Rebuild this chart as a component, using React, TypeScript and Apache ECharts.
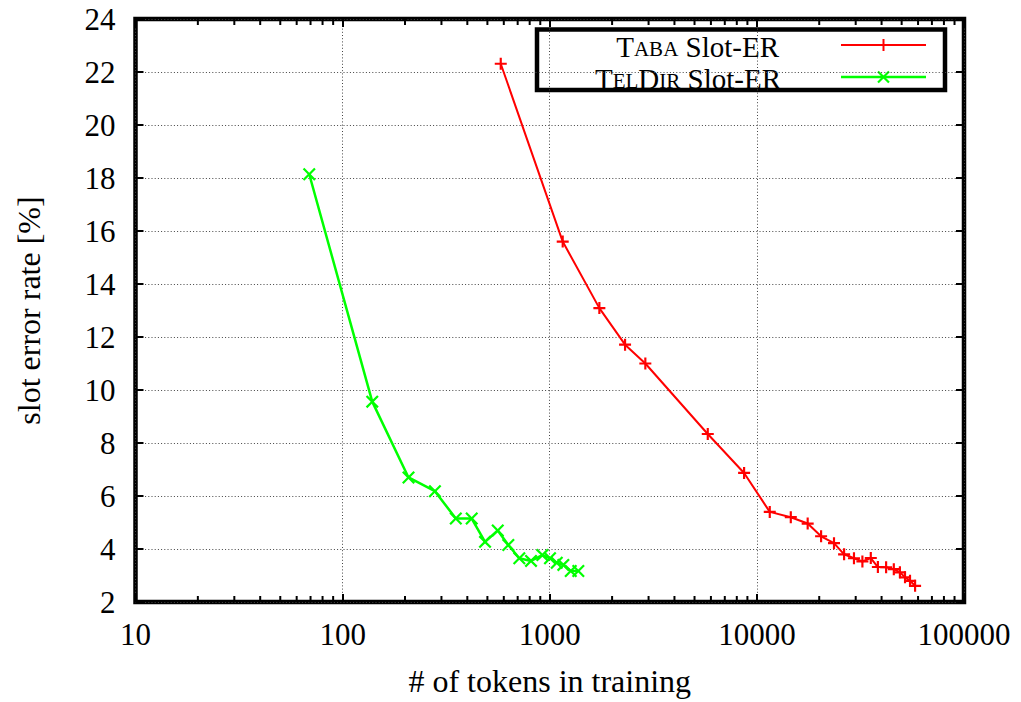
import React, { useEffect, useRef } from "react";
import * as echarts from "echarts";

// ---- data ----
const tabaTokens = [580, 1155, 1736, 2310, 2894, 5793, 8676, 11540, 14580, 17590, 20420, 23570, 26370, 29430, 32320, 35480, 38390, 42070, 45830, 49040, 51910, 54870, 58060];
const tabaSlotER = [22.31, 15.6, 13.09, 11.71, 11.0, 8.34, 6.87, 5.4, 5.2, 4.96, 4.48, 4.22, 3.8, 3.65, 3.53, 3.66, 3.32, 3.31, 3.24, 3.12, 2.93, 2.8, 2.61];
const teldirTokens = [69, 139, 208, 279, 352, 420, 487, 561, 631, 713, 812, 921, 1003, 1081, 1163, 1263, 1374];
const teldirSlotER = [18.14, 9.56, 6.7, 6.18, 5.15, 5.15, 4.27, 4.7, 4.15, 3.65, 3.55, 3.77, 3.65, 3.48, 3.4, 3.17, 3.17];

const seriesNames = ["Taba Slot-ER", "TelDir Slot-ER"];
const xAxisName = "# of tokens in training";
const yAxisName = "slot error rate [%]";
const xMin = 10;
const xMax = 100000;
const yMin = 2;
const yMax = 24;
const yStep = 2;
const minorTickValues = [
  20, 30, 40, 50, 60, 70, 80, 90,
  200, 300, 400, 500, 600, 700, 800, 900,
  2000, 3000, 4000, 5000, 6000, 7000, 8000, 9000,
  20000, 30000, 40000, 50000, 60000, 70000, 80000, 90000,
];

const FONT = "'Liberation Serif', 'Times New Roman', serif";
const RED = "#ff0000";
const GREEN = "#00ff00";
const PLUS = "path://M4.1,0H5.9V4.1H10V5.9H5.9V10H4.1V5.9H0V4.1H4.1Z";
const CROSS = "path://M0,1.2L1.2,0L5,3.8L8.8,0L10,1.2L6.2,5L10,8.8L8.8,10L5,6.2L1.2,10L0,8.8L3.8,5Z";

export default function App() {
  const ref = useRef<HTMLDivElement>(null);
  useEffect(() => {
    if (!ref.current) return;
    const chart = echarts.init(ref.current, undefined, { renderer: "svg" });
    const labelStyle = { fontFamily: FONT, fontSize: 31, color: "#000" };
    const splitStyle = { show: true, lineStyle: { color: "#444", width: 1, type: [1, 2.2] as any } };
    const tickStyle = { show: true, inside: true, length: 8, lineStyle: { color: "#000", width: 2 } };
    const fmt = (v: number) => String(Math.round(v));
    const legendRich = {
      b: { fontFamily: FONT, fontSize: 29, color: "#222", verticalAlign: "bottom", lineHeight: 30 },
      s: { fontFamily: FONT, fontSize: 21, color: "#222", verticalAlign: "bottom", lineHeight: 30, padding: [0, 0, 2, 0] },
    };
    const option: any = {
      animation: false,
      backgroundColor: "#fff",
      grid: { left: 135.5, right: 57, top: 19, bottom: 97.5, show: true, borderColor: "#000", borderWidth: 4.5, backgroundColor: "#fff" },
      xAxis: [
        {
          type: "log", logBase: 10, min: xMin, max: xMax, position: "bottom",
          axisLine: { show: false }, axisTick: tickStyle, splitLine: splitStyle,
          axisLabel: { ...labelStyle, margin: 17, formatter: fmt },
          name: xAxisName, nameLocation: "middle", nameGap: 63,
          nameTextStyle: { fontFamily: FONT, fontSize: 32, color: "#000" },
        },
        {
          type: "log", logBase: 10, min: xMin, max: xMax, position: "top",
          axisLine: { show: false }, axisTick: tickStyle, splitLine: { show: false }, axisLabel: { show: false },
        },
      ],
      yAxis: [
        {
          type: "value", min: yMin, max: yMax, interval: yStep, position: "left",
          axisLine: { show: false }, axisTick: tickStyle, splitLine: splitStyle,
          axisLabel: { ...labelStyle, margin: 20 },
          name: yAxisName, nameLocation: "middle", nameGap: 91, nameRotate: 90,
          nameTextStyle: { fontFamily: FONT, fontSize: 32, color: "#000" },
        },
        {
          type: "value", min: yMin, max: yMax, interval: yStep, position: "right",
          axisLine: { show: false }, axisTick: tickStyle, splitLine: { show: false }, axisLabel: { show: false },
        },
      ],
      series: [
        {
          name: "minor ticks", type: "custom", xAxisIndex: 0, yAxisIndex: 0, silent: true, z: 5,
          data: minorTickValues.map((v) => [v, yMin]),
          renderItem: (params: any, api: any) => {
            const v = api.value(0);
            const b = api.coord([v, yMin]);
            const t = api.coord([v, yMax]);
            const st = { stroke: "#000", lineWidth: 2 };
            return {
              type: "group",
              children: [
                { type: "line", shape: { x1: b[0], y1: b[1], x2: b[0], y2: b[1] - 6 }, style: st },
                { type: "line", shape: { x1: t[0], y1: t[1], x2: t[0], y2: t[1] + 6 }, style: st },
              ],
            };
          },
        },
        {
          name: seriesNames[0], type: "line", xAxisIndex: 0, yAxisIndex: 0, z: 10,
          data: tabaTokens.map((x, i) => [x, tabaSlotER[i]]),
          lineStyle: { color: RED, width: 2 }, itemStyle: { color: RED },
          symbol: PLUS, symbolSize: 12, showAllSymbol: true,
        },
        {
          name: seriesNames[1], type: "line", xAxisIndex: 0, yAxisIndex: 0, z: 10,
          data: teldirTokens.map((x, i) => [x, teldirSlotER[i]]),
          lineStyle: { color: GREEN, width: 2.5 }, itemStyle: { color: GREEN },
          symbol: CROSS, symbolSize: 13, showAllSymbol: true,
        },
      ],
      graphic: [
        {
          type: "group", z: 100,
          children: [
            { type: "rect", shape: { x: 537, y: 29.5, width: 408, height: 60.5 }, style: { fill: "#fff", stroke: "#000", lineWidth: 4.5 } },
            {
              type: "text", x: 779, y: 61,
              style: { text: "{b|T}{s|ABA}{b| Slot-ER}", rich: legendRich, align: "right", verticalAlign: "bottom", fontFamily: FONT, fontSize: 29 },
            },
            {
              type: "text", x: 781, y: 93,
              style: { text: "{b|T}{s|EL}{b|D}{s|IR}{b| Slot-ER}", rich: legendRich, align: "right", verticalAlign: "bottom", fontFamily: FONT, fontSize: 29 },
            },
            { type: "line", shape: { x1: 841, y1: 45, x2: 926, y2: 45 }, style: { stroke: RED, lineWidth: 2 } },
            { type: "line", shape: { x1: 883.5, y1: 39, x2: 883.5, y2: 51 }, style: { stroke: RED, lineWidth: 2 } },
            { type: "line", shape: { x1: 877.5, y1: 45, x2: 889.5, y2: 45 }, style: { stroke: RED, lineWidth: 2 } },
            { type: "line", shape: { x1: 841, y1: 77, x2: 926, y2: 77 }, style: { stroke: GREEN, lineWidth: 2.5 } },
            { type: "line", shape: { x1: 878, y1: 71.5, x2: 889, y2: 82.5 }, style: { stroke: GREEN, lineWidth: 2.2 } },
            { type: "line", shape: { x1: 878, y1: 82.5, x2: 889, y2: 71.5 }, style: { stroke: GREEN, lineWidth: 2.2 } },
          ],
        },
      ],
    };
    chart.setOption(option);
    return () => chart.dispose();
  }, []);
  return <div ref={ref} style={{ position: "fixed", left: 0, top: 0, width: 1021, height: 702 }} />;
}
